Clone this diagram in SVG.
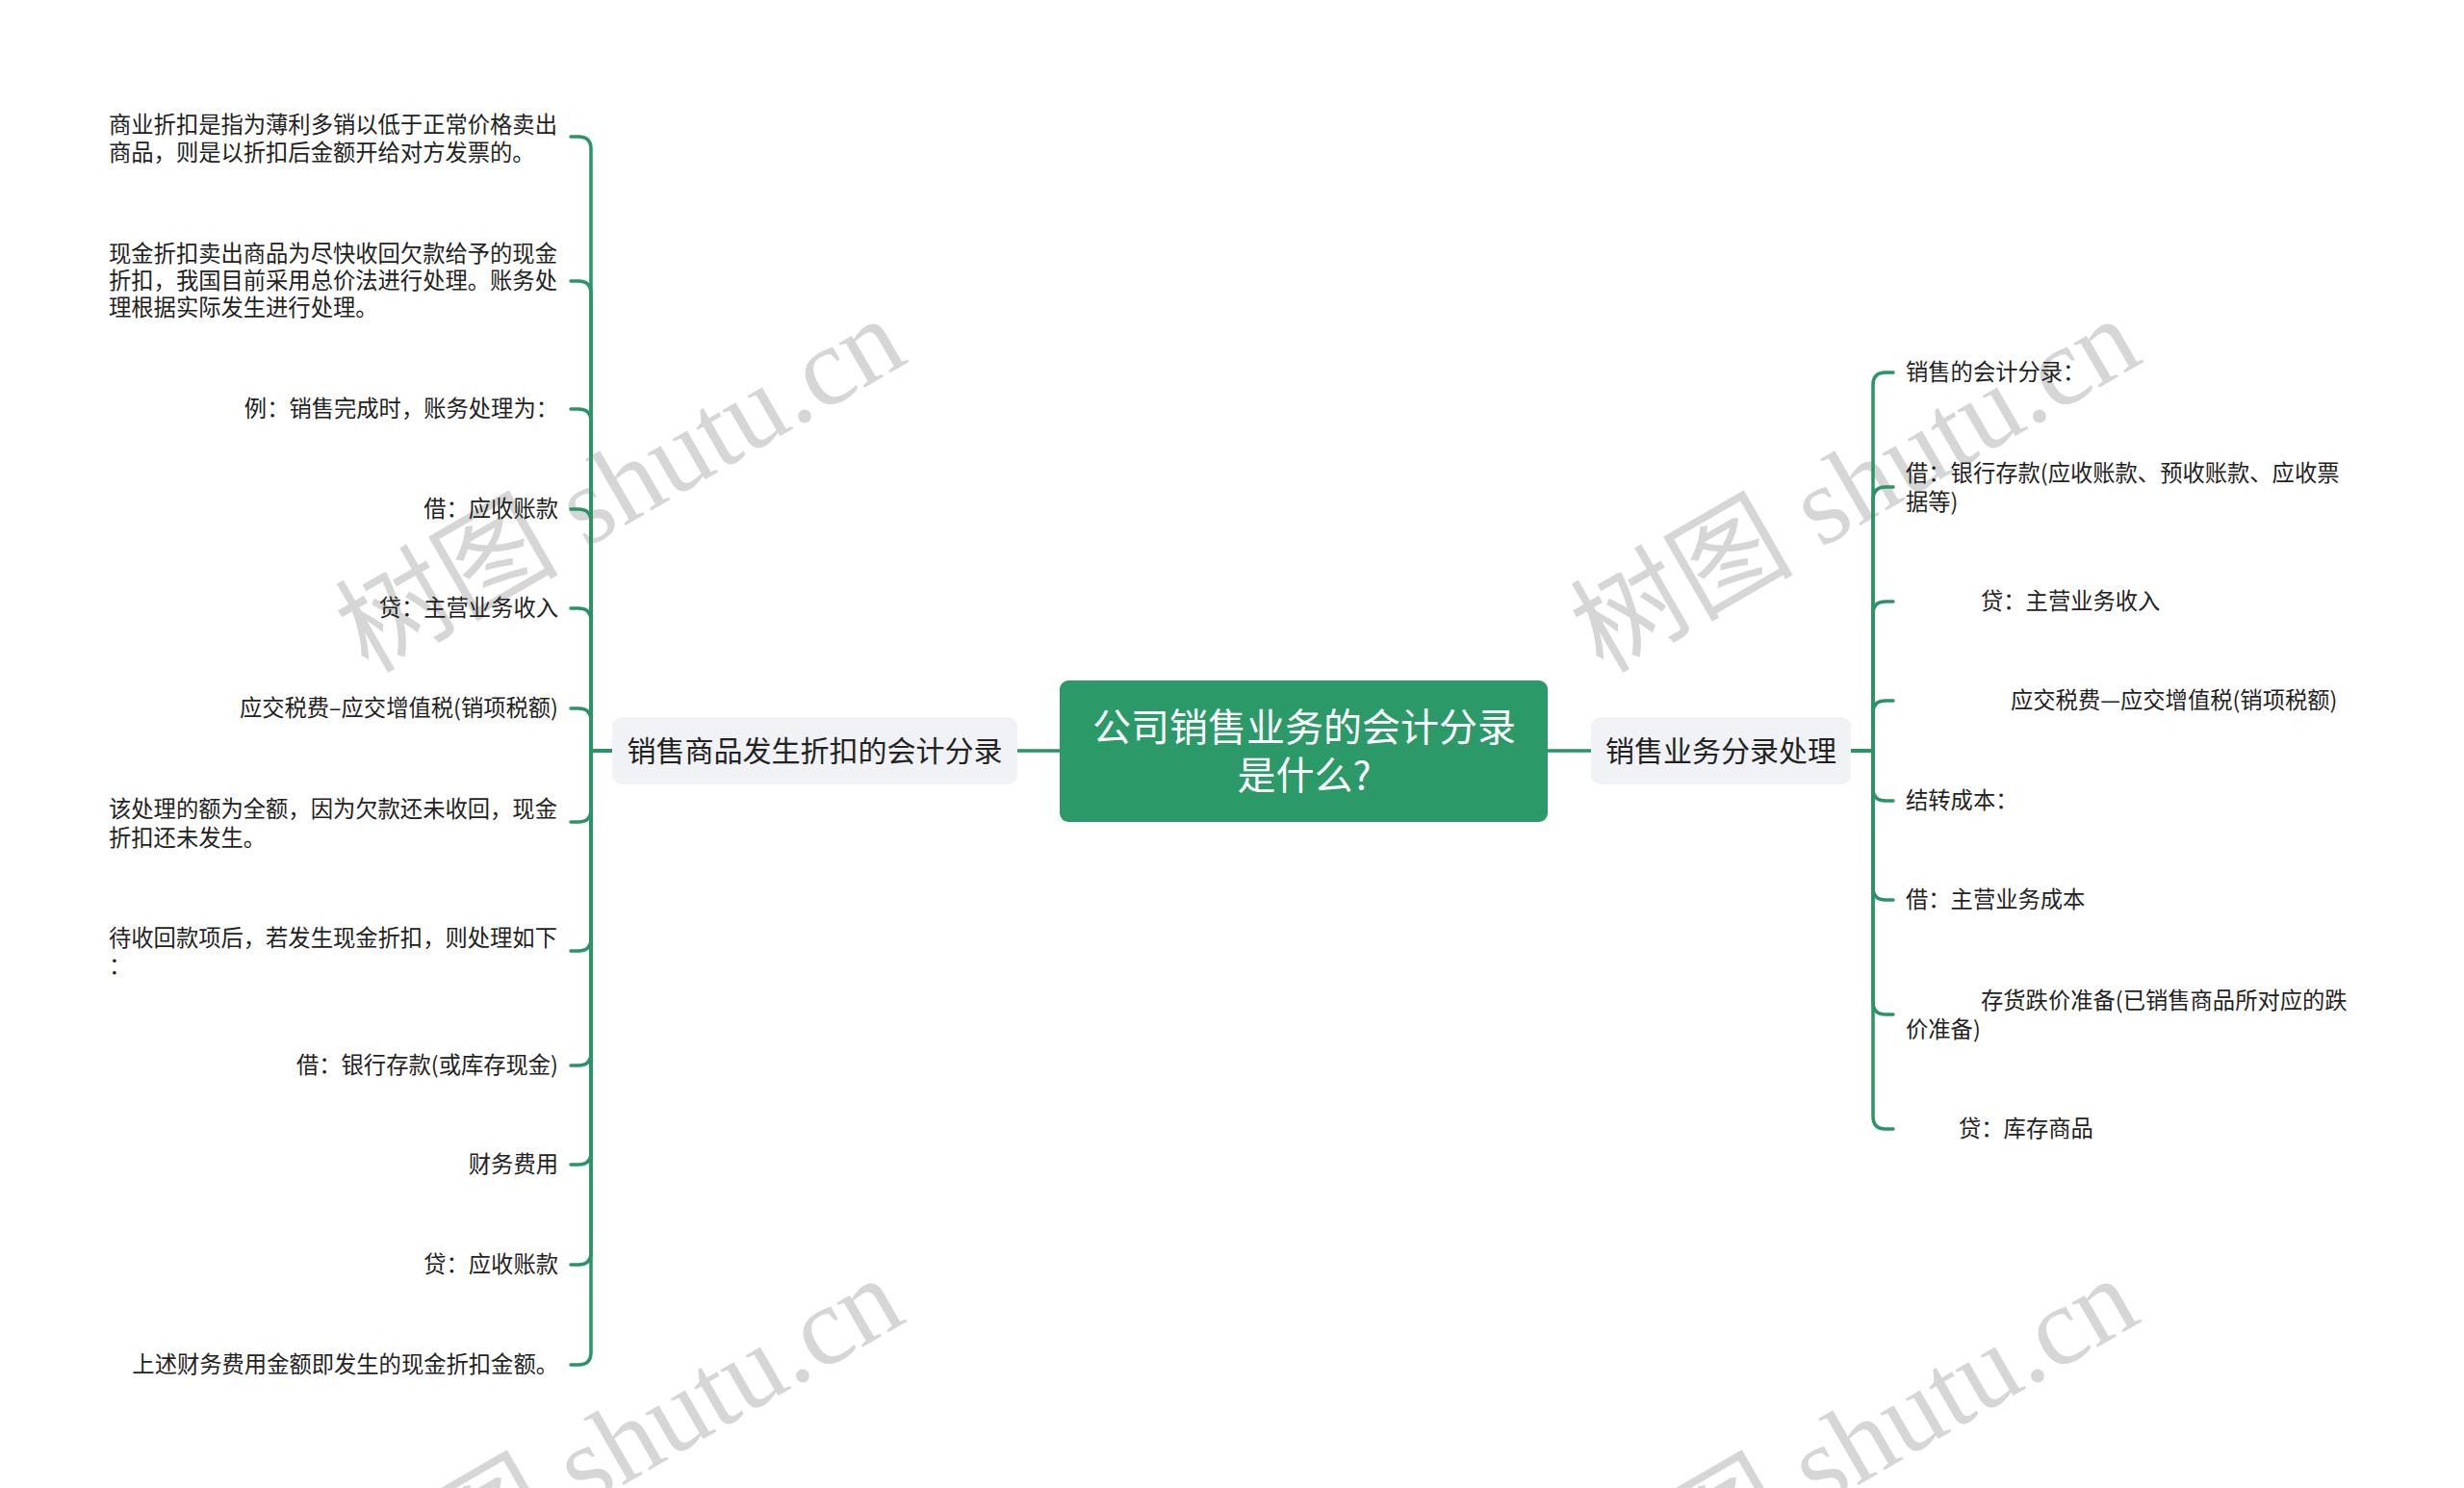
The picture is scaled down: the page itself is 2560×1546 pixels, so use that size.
<svg xmlns="http://www.w3.org/2000/svg" width="2560" height="1546" viewBox="0 0 2560 1546">
<style>
.wm{font-family:"Liberation Serif","Noto Sans CJK SC",serif;font-size:116px;fill:#d6d6d6;text-anchor:end}
.leaf{font-family:"Noto Sans CJK SC","Noto Sans",sans-serif;font-size:23.3px;fill:#222}
.r{text-anchor:end}
.br{font-family:"Noto Sans CJK SC","Noto Sans",sans-serif;font-size:30px;fill:#222;text-anchor:middle}
.root{font-family:"Noto Sans CJK SC","Noto Sans",sans-serif;font-size:40px;fill:#fff;text-anchor:middle}
.c{fill:none;stroke:#2a9466;stroke-width:3.5;stroke-linecap:round;stroke-linejoin:round}
</style>
<rect width="2560" height="1546" fill="#fff"/>
<g id="watermarks">
<text class="wm" transform="translate(946,375) rotate(-30)">树图 shutu.cn</text>
<text class="wm" transform="translate(2229,375) rotate(-30)">树图 shutu.cn</text>
<text class="wm" transform="translate(944,1372) rotate(-30)">树图 shutu.cn</text>
<text class="wm" transform="translate(2227,1372) rotate(-30)">树图 shutu.cn</text>
</g>
<g id="connectors">
<path class="c" d="M1101,780 H1057"/>
<path class="c" d="M1608,780 H1653"/>
<path class="c" d="M636,780 H614 V155 Q614,142 601,142 H593"/>
<path class="c" d="M636,780 H614 V305 Q614,292 601,292 H593"/>
<path class="c" d="M636,780 H614 V438 Q614,425 601,425 H593"/>
<path class="c" d="M636,780 H614 V542 Q614,529 601,529 H593"/>
<path class="c" d="M636,780 H614 V645 Q614,632 601,632 H593"/>
<path class="c" d="M636,780 H614 V749 Q614,736 601,736 H593"/>
<path class="c" d="M636,780 H614 V841 Q614,854 601,854 H593"/>
<path class="c" d="M636,780 H614 V975 Q614,988 601,988 H593"/>
<path class="c" d="M636,780 H614 V1094 Q614,1107 601,1107 H593"/>
<path class="c" d="M636,780 H614 V1197 Q614,1210 601,1210 H593"/>
<path class="c" d="M636,780 H614 V1301 Q614,1314 601,1314 H593"/>
<path class="c" d="M636,780 H614 V1405 Q614,1418 601,1418 H593"/>
<path class="c" d="M1923,780 H1946 V400 Q1946,387 1959,387 H1967"/>
<path class="c" d="M1923,780 H1946 V519 Q1946,506 1959,506 H1967"/>
<path class="c" d="M1923,780 H1946 V638 Q1946,625 1959,625 H1967"/>
<path class="c" d="M1923,780 H1946 V741 Q1946,728 1959,728 H1967"/>
<path class="c" d="M1923,780 H1946 V819 Q1946,832 1959,832 H1967"/>
<path class="c" d="M1923,780 H1946 V922 Q1946,935 1959,935 H1967"/>
<path class="c" d="M1923,780 H1946 V1041 Q1946,1054 1959,1054 H1967"/>
<path class="c" d="M1923,780 H1946 V1160 Q1946,1173 1959,1173 H1967"/>
</g>
<g id="root">
<rect x="1101" y="707" width="507" height="147" rx="9" fill="#2b9a68"/>
<text class="root" x="1355" y="770">公司销售业务的会计分录</text>
<text class="root" x="1355" y="820">是什么?</text>
</g>
<g id="branch-left">
<rect x="636" y="745" width="421" height="70" rx="10" fill="#f0f2f5"/>
<text class="br" x="846.5" y="791">销售商品发生折扣的会计分录</text>
</g>
<g id="branch-right">
<rect x="1653" y="745" width="270" height="70" rx="10" fill="#f0f2f5"/>
<text class="br" x="1788" y="791">销售业务分录处理</text>
</g>
<g id="L1"><text class="leaf" x="113" y="138">商业折扣是指为薄利多销以低于正常价格卖出</text><text class="leaf" x="113" y="167">商品，则是以折扣后金额开给对方发票的。</text></g>
<g id="L2"><text class="leaf" x="113" y="272">现金折扣卖出商品为尽快收回欠款给予的现金</text><text class="leaf" x="113" y="300">折扣，我国目前采用总价法进行处理。账务处</text><text class="leaf" x="113" y="328">理根据实际发生进行处理。</text></g>
<g id="L3"><text class="leaf r" x="580" y="433">例：销售完成时，账务处理为：</text></g>
<g id="L4"><text class="leaf r" x="580" y="537">借：应收账款</text></g>
<g id="L5"><text class="leaf r" x="580" y="640">贷：主营业务收入</text></g>
<g id="L6"><text class="leaf r" x="580" y="744">应交税费–应交增值税(销项税额)</text></g>
<g id="L7"><text class="leaf" x="113" y="849">该处理的额为全额，因为欠款还未收回，现金</text><text class="leaf" x="113" y="879">折扣还未发生。</text></g>
<g id="L8"><text class="leaf" x="113" y="983">待收回款项后，若发生现金折扣，则处理如下</text><text class="leaf" x="113" y="1012">：</text></g>
<g id="L9"><text class="leaf r" x="580" y="1115">借：银行存款(或库存现金)</text></g>
<g id="L10"><text class="leaf r" x="580" y="1218">财务费用</text></g>
<g id="L11"><text class="leaf r" x="580" y="1322">贷：应收账款</text></g>
<g id="L12"><text class="leaf r" x="580" y="1426">上述财务费用金额即发生的现金折扣金额。</text></g>
<g id="R1"><text class="leaf" x="1980" y="395">销售的会计分录：</text></g>
<g id="R2"><text class="leaf" x="1980" y="500">借：银行存款(应收账款、预收账款、应收票</text><text class="leaf" x="1980" y="530">据等)</text></g>
<g id="R3"><text class="leaf" x="2058" y="633">贷：主营业务收入</text></g>
<g id="R4"><text class="leaf" x="2089" y="736">应交税费—应交增值税(销项税额)</text></g>
<g id="R5"><text class="leaf" x="1980" y="840">结转成本：</text></g>
<g id="R6"><text class="leaf" x="1980" y="943">借：主营业务成本</text></g>
<g id="R7"><text class="leaf" x="2058" y="1048">存货跌价准备(已销售商品所对应的跌</text><text class="leaf" x="1980" y="1078">价准备)</text></g>
<g id="R8"><text class="leaf" x="2035" y="1181">贷：库存商品</text></g>
</svg>
